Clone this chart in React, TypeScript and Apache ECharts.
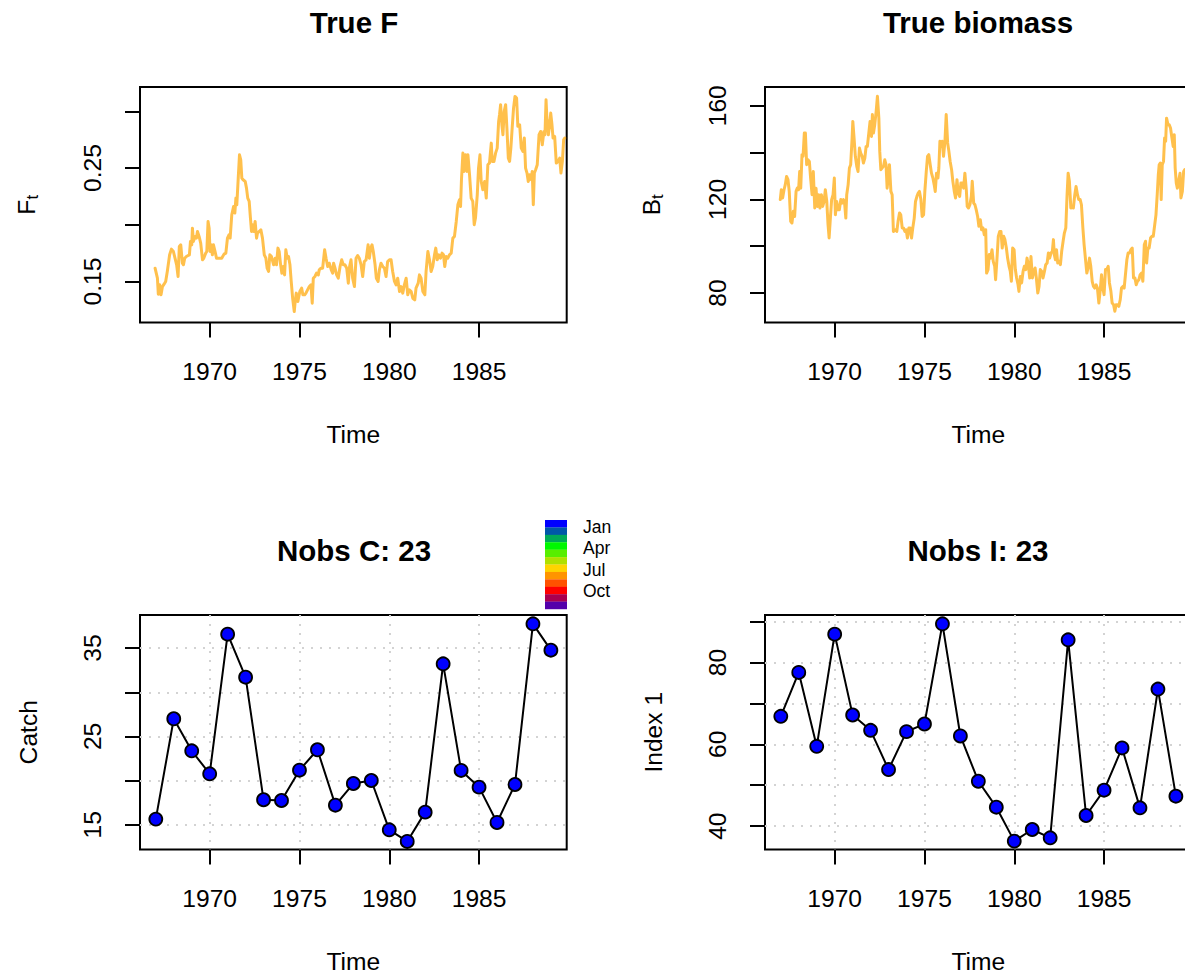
import React, { useEffect, useRef } from 'react';
import * as echarts from 'echarts';

const FONT = '"Liberation Sans", Arial, Helvetica, sans-serif';

// Shared time axis
const X_MIN = 1966.12;
const X_MAX = 1989.88;
const YEAR_TICKS = [1970, 1975, 1980, 1985];

// True fishing mortality (time, F)
const TRUE_F: [number, number][] = [
  [1966.96,0.1617],[1967.09,0.1529],[1967.14,0.1388],[1967.22,0.1470],[1967.29,0.1382],[1967.37,0.1455],[1967.46,0.1476],[1967.55,0.1500],[1967.64,0.1588],[1967.77,0.1735],[1967.87,0.1785],[1967.98,0.1764],[1968.07,0.1705],[1968.16,0.1647],[1968.24,0.1544],[1968.31,0.1808],[1968.39,0.1823],[1968.48,0.1661],[1968.54,0.1647],[1968.61,0.1705],[1968.70,0.1720],[1968.80,0.1729],[1968.87,0.1735],[1968.93,0.1853],[1969.00,0.1823],[1969.04,0.1970],[1969.09,0.1853],[1969.19,0.1897],[1969.26,0.1882],[1969.32,0.1941],[1969.41,0.1897],[1969.50,0.1838],[1969.60,0.1691],[1969.67,0.1705],[1969.78,0.1750],[1969.84,0.1764],[1969.91,0.2029],[1969.97,0.1970],[1970.02,0.1764],[1970.08,0.1823],[1970.15,0.1735],[1970.21,0.1823],[1970.30,0.1764],[1970.38,0.1705],[1970.45,0.1705],[1970.56,0.1705],[1970.67,0.1705],[1970.80,0.1741],[1970.90,0.1750],[1970.99,0.1882],[1971.08,0.1912],[1971.14,0.1882],[1971.23,0.2088],[1971.33,0.2161],[1971.40,0.2103],[1971.46,0.2235],[1971.51,0.2176],[1971.59,0.2412],[1971.66,0.2617],[1971.73,0.2573],[1971.79,0.2412],[1971.86,0.2397],[1971.98,0.2382],[1972.05,0.2323],[1972.12,0.2235],[1972.20,0.2206],[1972.27,0.2059],[1972.33,0.1941],[1972.38,0.2000],[1972.46,0.1941],[1972.53,0.2029],[1972.61,0.1882],[1972.66,0.1926],[1972.76,0.1941],[1972.85,0.1956],[1972.94,0.1882],[1973.04,0.1735],[1973.13,0.1705],[1973.20,0.1617],[1973.28,0.1588],[1973.35,0.1735],[1973.44,0.1720],[1973.56,0.1647],[1973.65,0.1705],[1973.72,0.1647],[1973.80,0.1794],[1973.87,0.1764],[1973.95,0.1647],[1974.02,0.1573],[1974.10,0.1632],[1974.17,0.1558],[1974.24,0.1779],[1974.32,0.1705],[1974.39,0.1720],[1974.47,0.1647],[1974.54,0.1500],[1974.62,0.1352],[1974.71,0.1235],[1974.76,0.1323],[1974.82,0.1397],[1974.91,0.1323],[1975.02,0.1411],[1975.12,0.1441],[1975.19,0.1382],[1975.29,0.1382],[1975.36,0.1397],[1975.45,0.1426],[1975.55,0.1455],[1975.64,0.1470],[1975.71,0.1308],[1975.77,0.1529],[1975.86,0.1544],[1975.95,0.1573],[1976.05,0.1558],[1976.10,0.1602],[1976.20,0.1617],[1976.29,0.1617],[1976.40,0.1779],[1976.48,0.1705],[1976.57,0.1632],[1976.66,0.1661],[1976.77,0.1602],[1976.85,0.1573],[1976.90,0.1661],[1976.98,0.1617],[1977.07,0.1558],[1977.16,0.1529],[1977.26,0.1632],[1977.35,0.1691],[1977.44,0.1647],[1977.53,0.1647],[1977.63,0.1617],[1977.72,0.1485],[1977.79,0.1632],[1977.87,0.1691],[1977.96,0.1529],[1978.06,0.1455],[1978.15,0.1705],[1978.24,0.1729],[1978.33,0.1705],[1978.43,0.1647],[1978.52,0.1544],[1978.61,0.1676],[1978.71,0.1691],[1978.82,0.1823],[1978.89,0.1705],[1978.97,0.1794],[1979.04,0.1823],[1979.11,0.1764],[1979.21,0.1647],[1979.28,0.1529],[1979.38,0.1500],[1979.45,0.1602],[1979.54,0.1661],[1979.64,0.1632],[1979.73,0.1617],[1979.82,0.1544],[1979.91,0.1676],[1980.01,0.1691],[1980.10,0.1691],[1980.19,0.1588],[1980.29,0.1500],[1980.38,0.1470],[1980.47,0.1529],[1980.57,0.1411],[1980.66,0.1455],[1980.75,0.1397],[1980.84,0.1470],[1980.94,0.1529],[1981.03,0.1382],[1981.12,0.1426],[1981.22,0.1411],[1981.31,0.1352],[1981.42,0.1338],[1981.49,0.1441],[1981.61,0.1485],[1981.68,0.1558],[1981.77,0.1529],[1981.87,0.1411],[1981.98,0.1382],[1982.05,0.1588],[1982.15,0.1764],[1982.24,0.1691],[1982.33,0.1588],[1982.42,0.1632],[1982.52,0.1735],[1982.59,0.1794],[1982.67,0.1691],[1982.76,0.1735],[1982.85,0.1705],[1982.94,0.1750],[1983.02,0.1735],[1983.09,0.1632],[1983.17,0.1720],[1983.26,0.1705],[1983.35,0.1735],[1983.45,0.1750],[1983.54,0.1882],[1983.63,0.1897],[1983.73,0.2029],[1983.82,0.2176],[1983.91,0.2220],[1983.97,0.2161],[1984.02,0.2397],[1984.10,0.2632],[1984.15,0.2470],[1984.25,0.2617],[1984.32,0.2470],[1984.38,0.2617],[1984.47,0.2441],[1984.56,0.2235],[1984.65,0.2206],[1984.73,0.2000],[1984.80,0.2059],[1984.90,0.2264],[1984.97,0.2500],[1985.05,0.2617],[1985.12,0.2382],[1985.21,0.2309],[1985.31,0.2382],[1985.40,0.2235],[1985.49,0.2529],[1985.58,0.2544],[1985.68,0.2720],[1985.73,0.2559],[1985.83,0.2559],[1985.92,0.2632],[1986.01,0.2676],[1986.09,0.2912],[1986.14,0.2971],[1986.20,0.3059],[1986.27,0.2882],[1986.33,0.2794],[1986.40,0.3000],[1986.48,0.3059],[1986.55,0.2853],[1986.63,0.2588],[1986.70,0.2559],[1986.77,0.2676],[1986.85,0.2868],[1986.92,0.3029],[1987.00,0.3132],[1987.09,0.3118],[1987.16,0.2868],[1987.26,0.2882],[1987.35,0.2676],[1987.44,0.2647],[1987.52,0.2765],[1987.59,0.2500],[1987.67,0.2456],[1987.74,0.2382],[1987.82,0.2441],[1987.91,0.2397],[1987.96,0.2470],[1988.02,0.2176],[1988.08,0.2456],[1988.15,0.2485],[1988.24,0.2529],[1988.34,0.2794],[1988.43,0.2823],[1988.52,0.2706],[1988.61,0.2823],[1988.67,0.2794],[1988.73,0.3103],[1988.78,0.2926],[1988.86,0.2794],[1988.93,0.2882],[1988.99,0.2985],[1989.06,0.2882],[1989.12,0.2765],[1989.21,0.2779],[1989.30,0.2544],[1989.40,0.2559],[1989.49,0.2588],[1989.56,0.2456],[1989.64,0.2559],[1989.71,0.2750],[1989.77,0.2765]
];

// True biomass (time, B)
const TRUE_B: [number, number][] = [
  [1966.97,119.9],[1967.03,124.1],[1967.10,120.6],[1967.18,124.1],[1967.25,126.3],[1967.32,129.8],[1967.40,128.4],[1967.47,123.4],[1967.55,110.6],[1967.62,109.9],[1967.70,114.9],[1967.77,112.7],[1967.85,123.4],[1967.92,124.8],[1967.99,124.1],[1968.05,131.9],[1968.11,124.8],[1968.18,139.1],[1968.24,138.4],[1968.31,148.3],[1968.37,148.3],[1968.44,134.8],[1968.51,136.9],[1968.59,136.2],[1968.66,129.1],[1968.74,122.0],[1968.81,131.9],[1968.89,116.3],[1968.96,124.8],[1969.04,117.0],[1969.11,122.0],[1969.18,116.3],[1969.26,122.0],[1969.33,117.0],[1969.41,119.1],[1969.48,124.1],[1969.56,119.1],[1969.63,109.2],[1969.69,103.5],[1969.76,112.0],[1969.83,119.9],[1969.91,122.0],[1969.98,129.1],[1970.04,113.4],[1970.11,119.1],[1970.19,115.6],[1970.26,115.6],[1970.34,119.9],[1970.41,118.4],[1970.49,119.9],[1970.56,117.7],[1970.62,112.0],[1970.67,122.0],[1970.75,126.3],[1970.82,133.4],[1970.89,134.8],[1970.97,146.2],[1971.01,153.3],[1971.08,146.2],[1971.15,138.4],[1971.23,134.1],[1971.30,131.9],[1971.38,141.9],[1971.45,139.8],[1971.53,138.4],[1971.60,135.5],[1971.68,137.6],[1971.75,142.6],[1971.82,142.6],[1971.90,148.3],[1971.97,153.3],[1972.05,146.9],[1972.10,156.2],[1972.16,148.3],[1972.23,151.9],[1972.31,157.6],[1972.38,164.0],[1972.46,154.7],[1972.51,140.5],[1972.57,132.7],[1972.64,133.4],[1972.72,134.1],[1972.79,136.9],[1972.86,134.8],[1972.92,124.8],[1972.98,129.1],[1973.05,134.8],[1973.13,123.4],[1973.20,122.0],[1973.27,106.3],[1973.39,107.0],[1973.46,106.3],[1973.53,110.6],[1973.61,114.2],[1973.68,113.4],[1973.76,107.8],[1973.83,107.8],[1973.91,106.3],[1973.98,107.0],[1974.05,103.5],[1974.13,107.8],[1974.20,107.8],[1974.28,103.5],[1974.35,107.8],[1974.43,112.0],[1974.50,119.1],[1974.58,121.3],[1974.65,122.7],[1974.72,123.4],[1974.80,119.9],[1974.87,112.7],[1974.95,113.4],[1975.02,123.4],[1975.10,131.9],[1975.17,138.4],[1975.24,139.1],[1975.32,134.8],[1975.39,131.2],[1975.47,129.1],[1975.54,126.3],[1975.60,123.4],[1975.67,131.2],[1975.75,129.1],[1975.80,133.4],[1975.86,144.8],[1975.93,142.6],[1975.99,144.8],[1976.06,138.4],[1976.14,144.8],[1976.21,156.2],[1976.29,144.1],[1976.36,140.5],[1976.43,136.2],[1976.51,132.7],[1976.58,127.7],[1976.66,123.4],[1976.73,120.6],[1976.81,128.4],[1976.88,122.7],[1976.96,121.3],[1977.03,127.0],[1977.10,127.0],[1977.18,124.8],[1977.25,131.2],[1977.33,124.1],[1977.38,117.0],[1977.45,116.3],[1977.53,117.7],[1977.61,121.3],[1977.66,127.7],[1977.74,118.4],[1977.81,117.7],[1977.88,115.6],[1977.96,112.7],[1978.03,108.5],[1978.11,111.3],[1978.18,107.0],[1978.26,107.8],[1978.33,104.9],[1978.41,107.0],[1978.46,88.5],[1978.54,90.0],[1978.61,96.4],[1978.68,94.9],[1978.76,98.5],[1978.83,93.5],[1978.91,91.4],[1978.96,85.7],[1979.04,94.9],[1979.11,104.2],[1979.19,106.3],[1979.26,106.3],[1979.33,99.2],[1979.41,104.2],[1979.48,102.8],[1979.56,99.2],[1979.63,94.9],[1979.71,91.4],[1979.78,89.2],[1979.84,85.0],[1979.91,99.2],[1979.99,98.5],[1980.06,90.0],[1980.13,86.4],[1980.21,83.5],[1980.26,80.7],[1980.34,87.1],[1980.41,84.3],[1980.49,89.2],[1980.56,91.4],[1980.64,90.0],[1980.71,94.9],[1980.78,92.1],[1980.86,86.4],[1980.93,95.6],[1981.01,86.4],[1981.08,89.2],[1981.16,90.7],[1981.23,86.4],[1981.31,80.0],[1981.38,82.8],[1981.45,90.0],[1981.53,89.2],[1981.60,86.4],[1981.68,89.2],[1981.75,92.1],[1981.83,92.8],[1981.90,97.1],[1981.97,94.9],[1982.05,97.1],[1982.12,97.8],[1982.18,102.8],[1982.23,96.4],[1982.29,94.2],[1982.35,98.5],[1982.42,92.8],[1982.50,93.5],[1982.57,92.1],[1982.64,97.8],[1982.72,102.1],[1982.79,105.6],[1982.87,107.8],[1982.94,122.0],[1983.00,131.2],[1983.07,127.7],[1983.15,116.3],[1983.22,117.0],[1983.29,116.3],[1983.37,122.0],[1983.44,125.5],[1983.52,122.0],[1983.59,119.9],[1983.67,119.9],[1983.74,117.7],[1983.82,107.8],[1983.89,100.6],[1983.96,94.9],[1984.04,88.5],[1984.11,90.7],[1984.19,94.9],[1984.26,91.4],[1984.34,85.0],[1984.41,82.8],[1984.48,82.1],[1984.56,83.5],[1984.63,82.1],[1984.71,75.7],[1984.78,80.7],[1984.86,87.8],[1984.93,82.1],[1985.00,79.3],[1985.08,90.0],[1985.15,90.0],[1985.23,91.4],[1985.30,84.3],[1985.38,80.7],[1985.45,75.7],[1985.53,75.0],[1985.60,72.2],[1985.67,75.0],[1985.75,75.0],[1985.82,74.3],[1985.90,77.1],[1985.97,82.1],[1986.05,82.8],[1986.12,82.1],[1986.19,87.8],[1986.27,94.2],[1986.34,97.1],[1986.42,97.1],[1986.49,98.5],[1986.57,99.2],[1986.64,86.4],[1986.72,86.4],[1986.79,83.5],[1986.86,85.0],[1986.94,85.7],[1987.01,87.8],[1987.09,88.5],[1987.16,85.0],[1987.24,100.6],[1987.31,102.1],[1987.37,92.8],[1987.44,99.2],[1987.51,99.2],[1987.59,103.5],[1987.66,104.2],[1987.74,104.2],[1987.81,108.5],[1987.89,113.4],[1987.96,122.0],[1988.02,130.5],[1988.07,134.8],[1988.13,135.5],[1988.18,119.9],[1988.24,134.8],[1988.31,136.2],[1988.37,146.2],[1988.43,144.8],[1988.48,154.7],[1988.56,151.9],[1988.63,151.9],[1988.70,150.5],[1988.78,146.2],[1988.85,142.6],[1988.91,147.6],[1988.96,133.4],[1989.02,127.0],[1989.08,124.8],[1989.15,127.7],[1989.23,131.2],[1989.28,120.6],[1989.36,123.4],[1989.43,131.9],[1989.49,132.7]
];

// Annual observations
const OBS_YEARS = [1967, 1968, 1969, 1970, 1971, 1972, 1973, 1974, 1975, 1976, 1977, 1978, 1979, 1980, 1981, 1982, 1983, 1984, 1985, 1986, 1987, 1988, 1989];
const CATCH = [15.64, 27.0, 23.37, 20.77, 36.58, 31.71, 17.83, 17.75, 21.18, 23.49, 17.22, 19.67, 20.01, 14.43, 13.11, 16.43, 33.22, 21.15, 19.26, 15.26, 19.56, 37.75, 34.77];
const INDEX1 = [66.84, 77.57, 59.52, 86.92, 67.16, 63.42, 53.83, 63.10, 64.97, 89.44, 62.04, 50.98, 44.64, 36.35, 39.19, 37.16, 85.54, 42.61, 48.79, 59.11, 44.48, 73.50, 47.33];

// Y axis ticks and the subset that carries labels
const F_TICKS = [0.15, 0.2, 0.25, 0.3];
const F_LABELS = [0.15, 0.25];
const B_TICKS = [80, 100, 120, 140, 160];
const B_LABELS = [80, 120, 160];
const CATCH_TICKS = [15, 20, 25, 30, 35];
const CATCH_LABELS = [15, 25, 35];
const INDEX_TICKS = [40, 50, 60, 70, 80, 90];
const INDEX_LABELS = [40, 60, 80];

// Season colour bar
const SEASON_COLORS = ['#0000ff', '#0058a8', '#00aa58', '#00f800', '#58ee00', '#b0e000', '#ffd400', '#ff9400', '#ff5200', '#ff0000', '#aa0050', '#5400aa'];
const SEASON_LABELS = ['Jan', 'Apr', 'Jul', 'Oct'];

const TRUE_COL = 'rgba(255,165,0,0.7)';
const AXIS_FS = 24.6;

const GRIDS = [
  { left: 140, top: 87, width: 426.7, height: 235.5 },
  { left: 765, top: 87, width: 426.7, height: 235.5 },
  { left: 140, top: 615, width: 426.7, height: 234.5 },
  { left: 765, top: 615, width: 426.7, height: 234.5 },
];

const plain = (v: number) => String(v);

function xAxis(gridIndex: number, gridLines: boolean) {
  return {
    type: 'value',
    gridIndex,
    min: X_MIN,
    max: X_MAX,
    name: 'Time',
    nameLocation: 'middle',
    nameGap: 99,
    nameTextStyle: { fontFamily: FONT, fontSize: AXIS_FS, color: '#000' },
    axisLine: { show: false },
    axisTick: { show: true, length: 15, customValues: YEAR_TICKS, lineStyle: { color: '#000', width: 2 } },
    axisLabel: { customValues: YEAR_TICKS, formatter: plain, fontFamily: FONT, fontSize: AXIS_FS, color: '#000', margin: 36 },
    splitLine: { show: gridLines, lineStyle: { color: '#d3d3d3', width: 2, type: [2, 7] } },
  };
}

function yAxis(gridIndex: number, min: number, max: number, ticks: number[], labels: number[], name: string, rich: any, gridLines: boolean) {
  return {
    type: 'value',
    gridIndex,
    min,
    max,
    name,
    nameLocation: 'middle',
    nameGap: 99,
    nameTextStyle: { fontFamily: FONT, fontSize: AXIS_FS, color: '#000', rich },
    axisLine: { show: false },
    axisTick: { show: true, length: 15, customValues: ticks, lineStyle: { color: '#000', width: 2 } },
    axisLabel: { customValues: labels, formatter: plain, rotate: 90, fontFamily: FONT, fontSize: AXIS_FS, color: '#000', margin: 35 },
    splitLine: { show: gridLines, lineStyle: { color: '#d3d3d3', width: 2, type: [2, 7] } },
  };
}

const subRich = {
  m: { fontFamily: FONT, fontSize: AXIS_FS, color: '#000', lineHeight: 30 },
  s: { fontFamily: FONT, fontSize: 17, color: '#000', lineHeight: 14, verticalAlign: 'bottom' },
};

function title(text: string, x: number, y: number) {
  return {
    text,
    left: x,
    top: y,
    padding: 0,
    textAlign: 'center',
    textVerticalAlign: 'middle',
    textStyle: { fontFamily: FONT, fontSize: 29.5, fontWeight: 'bold', color: '#000' },
  };
}

function buildOption() {
  const bar: any[] = SEASON_COLORS.map((c, i) => ({
    type: 'rect',
    shape: { x: 545, y: 520 + i * 7.42, width: 22, height: 7.6 },
    style: { fill: c },
  }));
  SEASON_LABELS.forEach((t, i) => {
    bar.push({
      type: 'text',
      x: 583,
      y: 527 + i * 21.3,
      style: { text: t, font: `17.5px ${FONT}`, fill: '#000', align: 'left', verticalAlign: 'middle' },
    });
  });

  const pointSeries = (idx: number, values: number[]) => ({
    type: 'line',
    xAxisIndex: idx,
    yAxisIndex: idx,
    data: OBS_YEARS.map((y, i) => [y, values[i]]),
    symbol: 'circle',
    symbolSize: 13,
    showSymbol: true,
    lineStyle: { color: '#000', width: 2 },
    itemStyle: { color: '#0000ff', borderColor: '#000', borderWidth: 1.8 },
    z: 3,
  });

  return {
    animation: false,
    backgroundColor: '#fff',
    title: [
      title('True F', 354, 22),
      title('True biomass', 978, 22),
      title('Nobs C: 23', 354, 550),
      title('Nobs I: 23', 978, 550),
    ],
    grid: GRIDS.map((g) => ({
      ...g,
      show: true,
      borderColor: '#000',
      borderWidth: 2,
      backgroundColor: 'transparent',
      containLabel: false,
      outerBoundsMode: 'none',
    })),
    xAxis: [xAxis(0, false), xAxis(1, false), xAxis(2, true), xAxis(3, true)],
    yAxis: [
      yAxis(0, 0.1138, 0.3215, F_TICKS, F_LABELS, '{m|F}{s|t}', subRich, false),
      yAxis(1, 67.4, 168.0, B_TICKS, B_LABELS, '{m|B}{s|t}', subRich, false),
      yAxis(2, 12.2, 38.75, CATCH_TICKS, CATCH_LABELS, 'Catch', undefined, true),
      yAxis(3, 34.3, 91.6, INDEX_TICKS, INDEX_LABELS, 'Index 1', undefined, true),
    ],
    series: [
      {
        type: 'line', xAxisIndex: 0, yAxisIndex: 0, data: TRUE_F, showSymbol: false, symbol: 'none',
        lineStyle: { color: TRUE_COL, width: 3, join: 'round', cap: 'round' },
      },
      {
        type: 'line', xAxisIndex: 1, yAxisIndex: 1, data: TRUE_B, showSymbol: false, symbol: 'none',
        lineStyle: { color: TRUE_COL, width: 3, join: 'round', cap: 'round' },
      },
      pointSeries(2, CATCH),
      pointSeries(3, INDEX1),
    ],
    graphic: bar,
  };
}

export default function App() {
  const ref = useRef<HTMLDivElement>(null);
  useEffect(() => {
    if (!ref.current) return;
    const chart = echarts.init(ref.current, null, { renderer: 'svg' });
    chart.setOption(buildOption() as any);
    return () => chart.dispose();
  }, []);
  return (
    <div
      ref={ref}
      style={{ position: 'absolute', left: 0, top: 0, width: 1185, height: 979, background: '#fff' }}
    />
  );
}
